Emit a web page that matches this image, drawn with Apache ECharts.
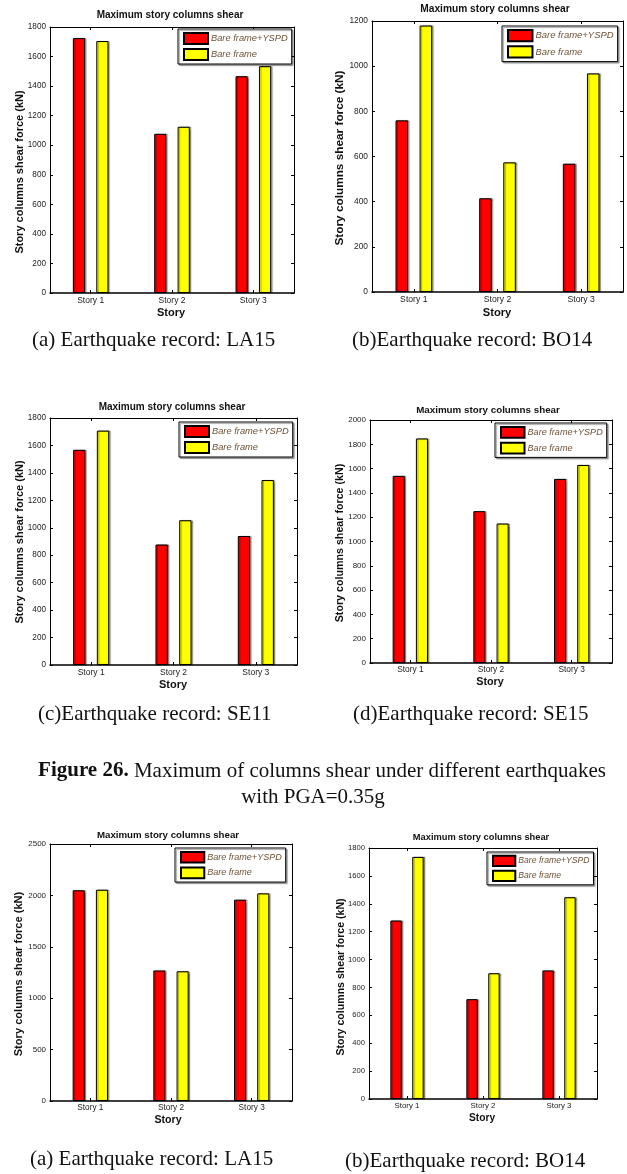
<!DOCTYPE html>
<html>
<head>
<meta charset="utf-8">
<script src="https://cdn.jsdelivr.net/npm/echarts@6/dist/echarts.min.js"></script>
<style>
  html, body { margin: 0; padding: 0; background: #ffffff; }
  #chart { width: 627px; height: 1174px; }
</style>
</head>
<body>
<div id="chart"></div>
<script>
// ---- data ----
const categories = ['Story 1', 'Story 2', 'Story 3'];
const seriesNames = ['Bare frame+YSPD', 'Bare frame'];
const panelTitle = 'Maximum story columns shear';
const xAxisTitle = 'Story';
const yAxisTitle = 'Story columns shear force (kN)';

// maximum column shear per story (kN)
const yspdLA15 = [1725, 1077, 1467];
const bareLA15 = [1705, 1125, 1535];
const yspdBO14 = [760, 415, 568];
const bareBO14 = [1180, 574, 968];
const yspdSE11 = [1568, 878, 940];
const bareSE11 = [1708, 1055, 1348];
const yspdSE15 = [1540, 1250, 1515];
const bareSE15 = [1848, 1148, 1630];
// PGA = 0.35g
const yspdLA15b = [2050, 1270, 1958];
const bareLA15b = [2055, 1262, 2020];
const yspdBO14b = [1280, 716, 922];
const bareBO14b = [1736, 902, 1447];

const panelData = [
  [yspdLA15, bareLA15],
  [yspdBO14, bareBO14],
  [yspdSE11, bareSE11],
  [yspdSE15, bareSE15],
  [yspdLA15b, bareLA15b],
  [yspdBO14b, bareBO14b]
];

const yMaxes = [1800, 1200, 1800, 2000, 2500, 1800];
const yIntervals = [200, 200, 200, 200, 500, 200];

const captions = [
  '(a) Earthquake record: LA15',
  '(b)Earthquake record: BO14',
  '(c)Earthquake record: SE11',
  '(d)Earthquake record: SE15',
  '(a) Earthquake record: LA15',
  '(b)Earthquake record: BO14'
];
const figureLabel = 'Figure 26.';
const figureLine1 = ' Maximum of columns shear under different earthquakes';
const figureLine2 = 'with PGA=0.35g';

// ---- layout (pixels) ----
// box: [left, top, right, bottom] of each plot frame; k scales the panel's small text,
// yFont is the size of the rotated axis title
const layout = [
  { box: [50, 27, 294, 293],   title: [170, 15],  yName: [20, 172],  xName: [171, 313],  legend: [178, 29],  caption: [32, 340],  k: 1.00, yFont: 11 },
  { box: [372, 21, 623, 292],  title: [495, 9],   yName: [340, 158], xName: [497, 313],  legend: [502, 26],  caption: [352, 340], k: 1.02, yFont: 11.8 },
  { box: [50, 418, 297, 665],  title: [172, 407], yName: [20, 542],  xName: [173, 685],  legend: [179, 422], caption: [38, 714],  k: 1.00, yFont: 11 },
  { box: [370, 420, 612, 663], title: [488, 410], yName: [340, 543], xName: [490, 682],  legend: [495, 423], caption: [353, 714], k: 0.98, yFont: 10.7 },
  { box: [50, 844, 292, 1101], title: [168, 835], yName: [19, 974],  xName: [168, 1120], legend: [175, 848], caption: [30, 1159], k: 0.97, yFont: 11.1 },
  { box: [369, 848, 597, 1099],title: [481, 837], yName: [341, 977], xName: [482, 1118], legend: [487, 852], caption: [345, 1161], k: 0.93, yFont: 10.6 }
];

const SANS = '"Liberation Sans", Arial, Helvetica, sans-serif';
const SERIF = '"Liberation Serif", "Times New Roman", serif';
const barColors = ['#ff0000', '#ffff00'];

const grids = [], xAxes = [], yAxes = [], series = [], legends = [], graphics = [];

layout.forEach((p, i) => {
  const [L, T, R, B] = p.box;
  const k = p.k;
  grids.push({ left: L, top: T, width: R - L, height: B - T, containLabel: false, outerBoundsMode: 'none' });

  const tick = { show: true, inside: true, length: 3, alignWithLabel: true, lineStyle: { color: '#000', width: 1 } };
  // bottom category axis
  xAxes.push({
    type: 'category', gridIndex: i, position: 'bottom', data: categories,
    axisLine: { show: true, lineStyle: { color: '#000', width: 1.5 } },
    axisTick: tick,
    axisLabel: { color: '#222', fontSize: 8.5 * k, fontFamily: SANS, margin: 3 },
    splitLine: { show: false }
  });
  // top frame edge
  xAxes.push({
    type: 'category', gridIndex: i, position: 'top', data: categories,
    axisLine: { show: true, onZero: false, lineStyle: { color: '#000', width: 1 } },
    axisTick: tick, axisLabel: { show: false }, splitLine: { show: false }
  });
  const ytick = { show: true, inside: true, length: 3, lineStyle: { color: '#000', width: 1 } };
  yAxes.push({
    type: 'value', gridIndex: i, position: 'left', min: 0, max: yMaxes[i], interval: yIntervals[i],
    axisLine: { show: true, lineStyle: { color: '#000', width: 1 } },
    axisTick: ytick,
    axisLabel: { color: '#222', fontSize: 8.2 * k, fontFamily: SANS, margin: 4, formatter: v => String(v) },
    splitLine: { show: false }
  });
  // right frame edge
  yAxes.push({
    type: 'value', gridIndex: i, position: 'right', min: 0, max: yMaxes[i], interval: yIntervals[i],
    axisLine: { show: true, onZero: false, lineStyle: { color: '#000', width: 1 } },
    axisTick: ytick, axisLabel: { show: false }, splitLine: { show: false }
  });

  panelData[i].forEach((vals, s) => {
    series.push({
      type: 'bar', name: seriesNames[s], xAxisIndex: 2 * i, yAxisIndex: 2 * i,
      data: vals, barWidth: '15%', barGap: '92%',
      itemStyle: {
        color: barColors[s], borderColor: '#000', borderWidth: 1,
        shadowColor: 'rgba(0,0,0,0.35)', shadowBlur: 1, shadowOffsetX: 1.5, shadowOffsetY: 0
      },
      emphasis: { disabled: true },
      animation: false
    });
  });

  legends.push({
    orient: 'vertical', left: p.legend[0], top: p.legend[1],
    data: seriesNames.map(n => ({ name: n, icon: 'rect' })),
    itemWidth: 24 * k, itemHeight: 11 * k, itemGap: 3 * k,
    padding: [3 * k, 4, 3 * k, 5],
    backgroundColor: '#fff', borderColor: '#000', borderWidth: 1,
    shadowColor: 'rgba(0,0,0,0.35)', shadowBlur: 1, shadowOffsetX: 1.5, shadowOffsetY: 1.5,
    textStyle: { fontStyle: 'italic', color: '#6e5236', fontSize: 9.3 * k, fontFamily: SANS, padding: [0, 0, 0, -2] },
    selectedMode: false
  });

  graphics.push({
    type: 'text', x: p.title[0], y: p.title[1],
    style: { text: panelTitle, fontSize: 10 * k, fontWeight: 'bold', fontFamily: SANS, fill: '#111',
             align: 'center', verticalAlign: 'middle', textAlign: 'center', textVerticalAlign: 'middle' }
  });
  graphics.push({
    type: 'text', x: p.yName[0], y: p.yName[1], rotation: Math.PI / 2,
    style: { text: yAxisTitle, fontSize: p.yFont, fontWeight: 'bold', fontFamily: SANS, fill: '#111',
             align: 'center', verticalAlign: 'middle', textAlign: 'center', textVerticalAlign: 'middle' }
  });
  graphics.push({
    type: 'text', x: p.xName[0], y: p.xName[1],
    style: { text: xAxisTitle, fontSize: 11 * k, fontWeight: 'bold', fontFamily: SANS, fill: '#111',
             align: 'center', verticalAlign: 'middle', textAlign: 'center', textVerticalAlign: 'middle' }
  });
  graphics.push({
    type: 'text', x: p.caption[0], y: p.caption[1],
    style: { text: captions[i], fontSize: 21, fontFamily: SERIF, fill: '#111',
             align: 'left', verticalAlign: 'middle', textAlign: 'left', textVerticalAlign: 'middle' }
  });
});

// figure caption
graphics.push({
  type: 'text', x: 322, y: 771,
  style: {
    text: '{b|' + figureLabel + '}' + figureLine1,
    rich: { b: { fontWeight: 'bold', fontSize: 21, fontFamily: SERIF, fill: '#111', color: '#111' } },
    fontSize: 21, fontFamily: SERIF, fill: '#111',
    align: 'center', verticalAlign: 'middle', textAlign: 'center', textVerticalAlign: 'middle'
  }
});
graphics.push({
  type: 'text', x: 313, y: 797,
  style: { text: figureLine2, fontSize: 21, fontFamily: SERIF, fill: '#111',
           align: 'center', verticalAlign: 'middle', textAlign: 'center', textVerticalAlign: 'middle' }
});

const chart = echarts.init(document.getElementById('chart'), null, { renderer: 'canvas' });
chart.setOption({
  backgroundColor: '#ffffff',
  animation: false,
  grid: grids,
  xAxis: xAxes,
  yAxis: yAxes,
  legend: legends,
  series: series,
  graphic: { elements: graphics }
});
</script>
</body>
</html>
